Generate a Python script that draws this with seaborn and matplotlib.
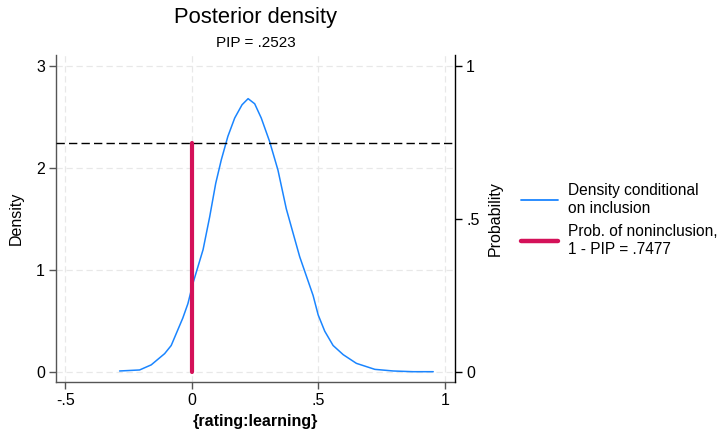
import matplotlib
matplotlib.use("Agg")
import matplotlib.pyplot as plt
import seaborn as sns
import pandas as pd
from matplotlib.lines import Line2D

sns.set_style("white", {"text.color": "black", "axes.labelcolor": "black",
                        "xtick.color": "black", "ytick.color": "black"})
plt.rcParams['font.family'] = ['Liberation Sans', 'DejaVu Sans']

# density conditional on inclusion
dens_x = [-0.286, -0.207, -0.161, -0.108, -0.082, -0.036, -0.016, 0.004, 0.044, 0.070,
          0.094, 0.116, 0.142, 0.169, 0.198, 0.222, 0.248, 0.274, 0.307, 0.340,
          0.373, 0.400, 0.426, 0.479, 0.499, 0.525, 0.558, 0.598, 0.650, 0.723,
          0.796, 0.875, 0.954]
dens_y = [0.01, 0.02, 0.07, 0.18, 0.26, 0.53, 0.67, 0.87, 1.20, 1.52,
          1.85, 2.08, 2.31, 2.49, 2.62, 2.68, 2.63, 2.49, 2.26, 1.98,
          1.60, 1.36, 1.13, 0.75, 0.56, 0.40, 0.26, 0.17, 0.085, 0.026,
          0.01, 0.003, 0.003]
pip = 0.2523
prob_noninc = 0.7477
x_ticks = [-0.5, 0, 0.5, 1]
x_labels = ["-.5", "0", ".5", "1"]
y_ticks = [0, 1, 2, 3]
y_labels = ["0", "1", "2", "3"]
p_ticks = [0, 0.5, 1]
p_labels = ["0", ".5", "1"]

blue = "#1a85ff"
red = "#d41159"
FS = 11.5

fig = plt.figure(figsize=(7.22, 4.30), dpi=100)
ax = fig.add_axes([56/722, 48/430, (455-56)/722, (382-55)/430])
ax2 = ax.twinx()

df = pd.DataFrame({"x": dens_x, "y": dens_y})
sns.lineplot(data=df, x="x", y="y", ax=ax, color=blue, linewidth=1.1, sort=False)

# right axis: probability (scale density/3)
ymin, ymax = -0.098, 3.108
ax.set_ylim(ymin, ymax)
ax2.set_ylim(ymin / 3, ymax / 3)
ax.set_xlim(-0.5375, 1.04)

dfp = pd.DataFrame({"x": [0, 0], "p": [0, prob_noninc]})
sns.lineplot(data=dfp, x="x", y="p", ax=ax2, color=red, linewidth=3, estimator=None, sort=False)
ax2.axhline(prob_noninc, color="black", linestyle=(0, (6, 3)), linewidth=1)

for v in x_ticks:
    ax.axvline(v, color="#e8e8e8", linestyle=(0, (5, 3)), linewidth=0.9, zorder=0)
for v in y_ticks:
    ax.axhline(v, color="#e8e8e8", linestyle=(0, (5, 3)), linewidth=0.9, zorder=0)

ax.set_xticks(x_ticks)
ax.set_xticklabels(x_labels)
ax.set_yticks(y_ticks)
ax.set_yticklabels(y_labels)
ax2.set_yticks(p_ticks)
ax2.set_yticklabels(p_labels)

for a in (ax, ax2):
    a.tick_params(axis="both", direction="out", length=5, width=1, labelsize=FS, pad=3,
                  color="#555555", labelcolor="black")
ax.tick_params(axis="x", bottom=True)
ax.tick_params(axis="y", left=True)
ax2.tick_params(axis="y", right=True, color="black")

for a in (ax, ax2):
    a.spines["top"].set_visible(False)
    for s in ("left", "bottom", "right"):
        a.spines[s].set_color("#555555")
        a.spines[s].set_linewidth(1)
ax2.spines["right"].set_color("black")
ax2.spines["left"].set_visible(False)
ax2.spines["bottom"].set_visible(False)
ax.spines["right"].set_visible(False)

ax.set_xlabel("{rating:learning}", fontsize=FS, fontweight="bold", labelpad=4)
ax.set_ylabel("Density", fontsize=FS, labelpad=9)
ax2.set_ylabel("Probability", fontsize=FS, labelpad=6)

fig.text(256/722, 1 - 18/430, "Posterior density", ha="center", va="center", fontsize=15.8)
fig.text(256/722, 1 - 43/430, "PIP = .2523", ha="center", va="center", fontsize=11)

handles = [Line2D([0], [0], color=blue, linewidth=1.3),
           Line2D([0], [0], color=red, linewidth=3.2)]
labels = ["Density conditional\non inclusion", "Prob. of noninclusion,\n1 - PIP = .7477"]
leg = fig.legend(handles, labels, loc="center left", bbox_to_anchor=(521/722, 1 - 220/430),
                 frameon=False, fontsize=11.2, handlelength=2.4, handletextpad=0.65,
                 labelspacing=0.5, borderaxespad=0, borderpad=0)
for t in leg.get_texts():
    t.set_linespacing(1.25)

fig.savefig("out.png", dpi=100, facecolor="white")
